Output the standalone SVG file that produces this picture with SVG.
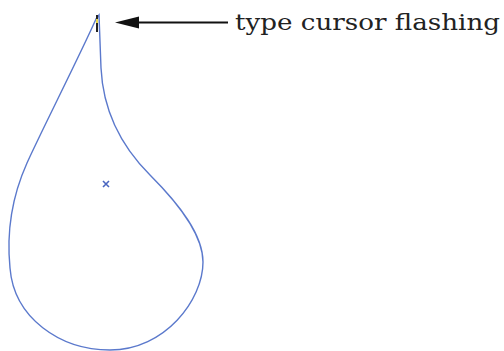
<svg xmlns="http://www.w3.org/2000/svg" width="504" height="351" viewBox="0 0 504 351">
<style>
.drop{fill:none;stroke:#5b79cc;stroke-width:1.4}
.lbl{font-family:"DejaVu Serif","Liberation Serif",serif;font-size:22px;fill:#222}
</style>
<rect width="504" height="351" fill="#fff"/>
<g id="drop">
<path class="drop" d="M96,19 L99,15 L101,68 C103,110 120,145 150,175 C180,205 203,235 203,262 C203,300 165,350 110,350 C60,350 14,318 10,268 C6,228 14,192 27,163 C40,134 80,55 96,19 Z"/>
<path d="M103,181 L109,187 M109,181 L103,187" stroke="#4a66c0" stroke-width="1.6"/>
</g>
<g id="cursor">
<rect x="96" y="15" width="2" height="17" fill="#222"/>
<rect x="96" y="19" width="2" height="4" fill="#e8d84a"/>
</g>
<g id="connectors">
<line x1="138" y1="22.5" x2="228" y2="22.5" stroke="#111" stroke-width="2"/>
<path d="M115,22.5 L139,16.5 L139,28.5 Z" fill="#111"/>
</g>
<g id="label">
<text class="lbl" x="235" y="30" textLength="265" lengthAdjust="spacingAndGlyphs">type cursor flashing</text>
</g>
</svg>
